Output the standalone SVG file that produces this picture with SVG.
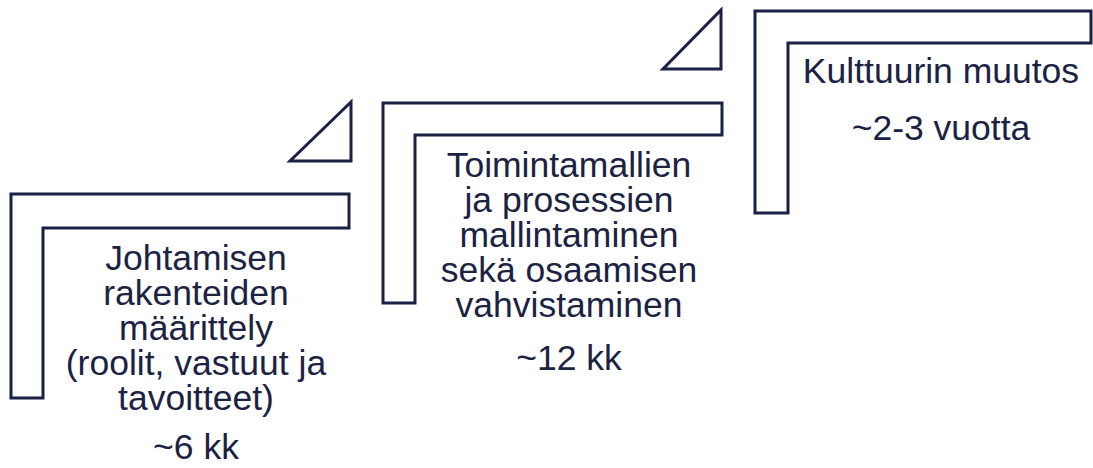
<svg xmlns="http://www.w3.org/2000/svg" width="1093" height="468" viewBox="0 0 1093 468">
  <style>
    .step { fill: #ffffff; stroke: #1b2145; stroke-width: 3; stroke-linejoin: miter; }
    .arrow { fill: #ffffff; stroke: #1b2145; stroke-width: 3; stroke-linejoin: miter; }
    .label { font-family: "Liberation Sans", Arial, sans-serif; font-size: 35.5px; fill: #1c2242; text-anchor: middle; }
  </style>
  <rect width="1093" height="468" fill="#ffffff"/>

  <!-- step 1: leadership structures -->
  <g id="step-1">
    <path class="step" d="M11,194 H349 V228 H43 V398 H11 Z"/>
    <text class="label" x="196" y="270">Johtamisen</text>
    <text class="label" x="196" y="305">rakenteiden</text>
    <text class="label" x="196" y="340">määrittely</text>
    <text class="label" x="196" y="375">(roolit, vastuut ja</text>
    <text class="label" x="196" y="410">tavoitteet)</text>
    <text class="label" x="196" y="459">~6 kk</text>
  </g>

  <!-- step 2: operating models and processes -->
  <g id="step-2">
    <path class="step" d="M383,103 H722 V135 H415 V303 H383 Z"/>
    <text class="label" x="569" y="177">Toimintamallien</text>
    <text class="label" x="569" y="212">ja prosessien</text>
    <text class="label" x="569" y="247">mallintaminen</text>
    <text class="label" x="569" y="282">sekä osaamisen</text>
    <text class="label" x="569" y="317">vahvistaminen</text>
    <text class="label" x="569" y="370">~12 kk</text>
  </g>

  <!-- step 3: culture change -->
  <g id="step-3">
    <path class="step" d="M755,11 H1091 V43 H788 V213 H755 Z"/>
    <text class="label" x="941" y="83">Kulttuurin muutos</text>
    <text class="label" x="941" y="140">~2-3 vuotta</text>
  </g>

  <!-- rising wedges between the steps -->
  <g id="connectors">
    <polygon class="arrow" points="351,102 351,161 290,161"/>
    <polygon class="arrow" points="721,10 721,69 663,69"/>
  </g>
</svg>
